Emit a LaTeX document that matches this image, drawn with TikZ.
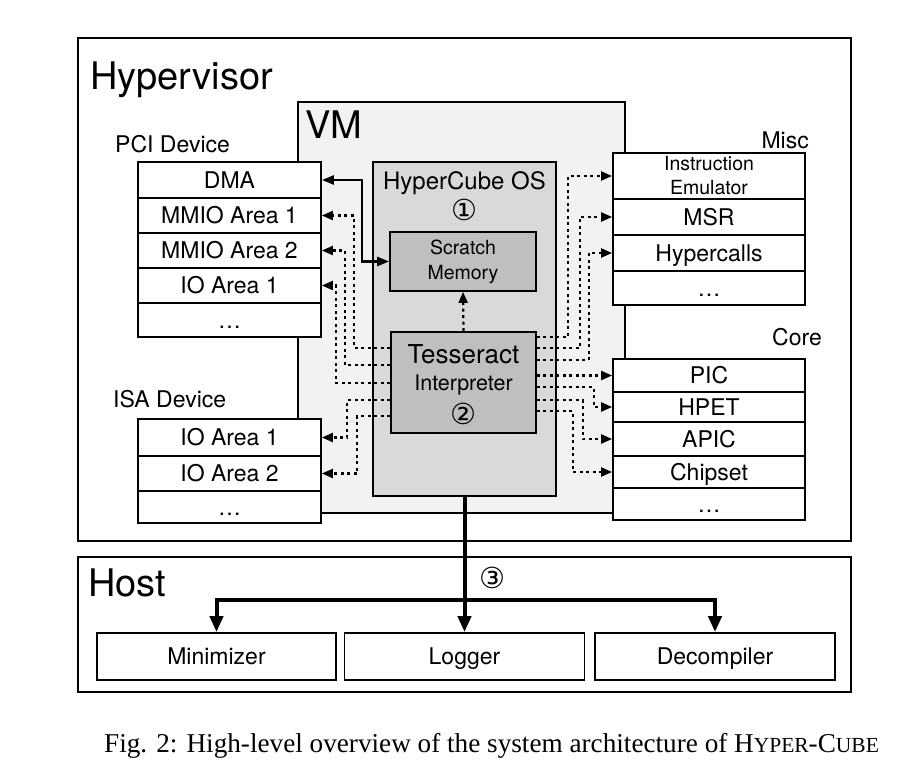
\documentclass[tikz,border=0pt]{standalone}
\usepackage{fontspec}
\setmainfont{TeX Gyre Heros}
\newfontfamily\capfont{Liberation Serif}
\newfontfamily\circfont{DejaVu Sans}
\usetikzlibrary{arrows.meta,calc}
\newcommand{\myfs}[1]{\fontsize{#1}{#1}\selectfont}
\newcommand{\myfsb}[2]{\fontsize{#1}{#2}\selectfont}
\begin{document}
\begin{tikzpicture}[x=1pt,y=-1pt,
  boxo/.style={draw, line width=1.8pt, inner sep=0pt},
  cell/.style={boxo, fill=white, minimum width=183pt, font=\myfs{23},
    text height=16.5pt, text depth=0pt},
  mcell/.style={cell, minimum width=192pt},
  hcell/.style={cell, minimum width=240pt, minimum height=47pt},
  lbl/.style={inner sep=0pt, font=\myfs{23}},
  biglbl/.style={inner sep=0pt, font=\myfs{38}},
  circ/.style={inner sep=0pt, font=\circfont\myfs{29}},
  dotarrow/.style={line width=2.2pt, dash pattern=on 3pt off 3.5pt,
    -{Triangle[length=11pt,width=9pt]}},
  solidarrow/.style={line width=2.5pt, line join=miter,
    {Triangle[length=12pt,width=9pt]}-{Triangle[length=12pt,width=9pt]}},
  hostline/.style={line width=4pt, line join=miter,
    -{Triangle[length=16pt,width=13pt]}}
]
\useasboundingbox (0,0) rectangle (910,784);
\fill[white] (0,0) rectangle (910,784);

% outer boxes
\node[boxo, minimum width=773pt, minimum height=503pt] (hv) at (464.5,289.5) {};
\node[boxo, minimum width=773pt, minimum height=135pt] (host) at (464.5,624.5) {};
\node[biglbl, anchor=base west] (hvl) at (90,89) {Hypervisor};
\node[biglbl, anchor=base west] (hostl) at (88,596) {Host};

% VM
\node[boxo, fill=gray!10, minimum width=327pt, minimum height=411pt] (vm) at (461.5,307.5) {};
\node[biglbl, anchor=base west] (vml) at (305,138) {VM};

% HyperCube OS
\node[boxo, fill=gray!30, minimum width=183pt, minimum height=334pt] (os) at (464.5,329) {};
\node[lbl, font=\myfs{24}, anchor=base] (osl) at (464.5,189) {HyperCube OS};
\node[circ] (one) at (464.5,210) {①};

\node[boxo, fill=gray!50, minimum width=146pt, minimum height=59pt, align=center,
  font=\myfsb{19.5}{25}] (scratch) at (463,261.5) {Scratch\\Memory};
\node[boxo, fill=gray!50, minimum width=145pt, minimum height=101pt] (tess) at (463.5,382.5) {};
\node[lbl, font=\myfs{26}, anchor=base] (tessl) at (463.5,363) {Tesseract};
\node[lbl, font=\myfs{21.5}, anchor=base] (interl) at (463.5,390) {Interpreter};
\node[circ] (two) at (463.5,414) {②};

% PCI device
\node[lbl, anchor=base west] (pcil) at (115,152) {PCI Device};
\node[cell, minimum height=36pt] (dma) at (229.5,180) {DMA};
\node[cell, minimum height=35pt] (mmioa) at (229.5,215.5) {MMIO Area 1};
\node[cell, minimum height=35pt] (mmiob) at (229.5,250.5) {MMIO Area 2};
\node[cell, minimum height=35pt] (pciio) at (229.5,285.5) {IO Area 1};
\node[cell, minimum height=34pt] (pcidots) at (229.5,320) {\dots};

% ISA device
\node[lbl, anchor=base west] (isal) at (113,407) {ISA Device};
\node[cell, minimum height=37pt] (isaa) at (229.5,437.5) {IO Area 1};
\node[cell, minimum height=35pt] (isab) at (229.5,473.5) {IO Area 2};
\node[cell, minimum height=32pt] (isadots) at (229.5,507) {\dots};

% Misc
\node[lbl, anchor=base east] (miscl) at (809,148) {Misc};
\node[boxo, fill=white, minimum width=192pt, minimum height=46pt, align=center,
  font=\myfsb{19.5}{24}] (emu) at (709,176) {Instruction\\Emulator};
\node[mcell, minimum height=36pt] (msr) at (709,217) {MSR};
\node[mcell, minimum height=36pt] (hyp) at (709,253) {Hypercalls};
\node[mcell, minimum height=34pt] (miscdots) at (709,288) {\dots};

% Core
\node[lbl, anchor=base west] (corel) at (772,345) {Core};
\node[mcell, minimum height=33pt] (pic) at (709,375.5) {PIC};
\node[mcell, minimum height=30pt] (hpet) at (709,407) {HPET};
\node[mcell, minimum height=34pt] (apic) at (709,439) {APIC};
\node[mcell, minimum height=32pt] (chip) at (709,472) {Chipset};
\node[mcell, minimum height=32pt] (coredots) at (709,504) {\dots};

% Host components
\node[hcell, minimum width=239pt] (mini) at (216.5,656.5) {Minimizer};
\node[hcell] (logger) at (464.5,656.5) {Logger};
\node[hcell] (decomp) at (715,656.5) {Decompiler};
\node[circ] (three) at (492,578) {③};

% connectors
\draw[solidarrow] (scratch.west) -- ++(-27,0) |- (dma.east);
\draw[dotarrow] (tess.north) -- (scratch.south);

\draw[dotarrow] ([yshift=34.5pt]tess.west) -- ++(-36,0) |- (mmioa.east);
\draw[dotarrow] ([yshift=17.5pt]tess.west) -- ++(-45,0) |- (mmiob.east);
\draw[dotarrow] ([yshift=-0.5pt]tess.west) -- ++(-54,0) |- (pciio.east);
\draw[dotarrow] ([yshift=-17.5pt]tess.west) -- ++(-43,0) |- (isaa.east);
\draw[dotarrow] ([yshift=-33.5pt]tess.west) -- ++(-33,0) |- (isab.east);

\draw[dotarrow] ([yshift=45.5pt]tess.east) -- ++(31,0) |- (emu.west);
\draw[dotarrow] ([yshift=34.5pt]tess.east) -- ++(43,0) |- (msr.west);
\draw[dotarrow] ([yshift=22.5pt]tess.east) -- ++(52,0) |- (hyp.west);
\draw[dotarrow] (tess.east |- pic) -- (pic.west);
\draw[dotarrow] ([yshift=-4.5pt]tess.east) -- ++(57,0) |- (hpet.west);
\draw[dotarrow] ([yshift=-17.5pt]tess.east) -- ++(46,0) |- (apic.west);
\draw[dotarrow] ([yshift=-28.5pt]tess.east) -- ++(36,0) |- (chip.west);

\coordinate (split) at (os.south |- 0,600);
\draw[hostline] (os.south) -- (logger.north);
\draw[hostline] (split) -| (mini.north);
\draw[hostline] (split) -| (decomp.north);

% caption
\node[inner sep=0pt, anchor=base west, font=\capfont\myfs{27.2}] (cap) at (104,752)
  {Fig. 2: High-level overview of the system architecture of H{\myfs{21.5}YPER}-C{\myfs{21.5}UBE}};
\end{tikzpicture}
\end{document}
